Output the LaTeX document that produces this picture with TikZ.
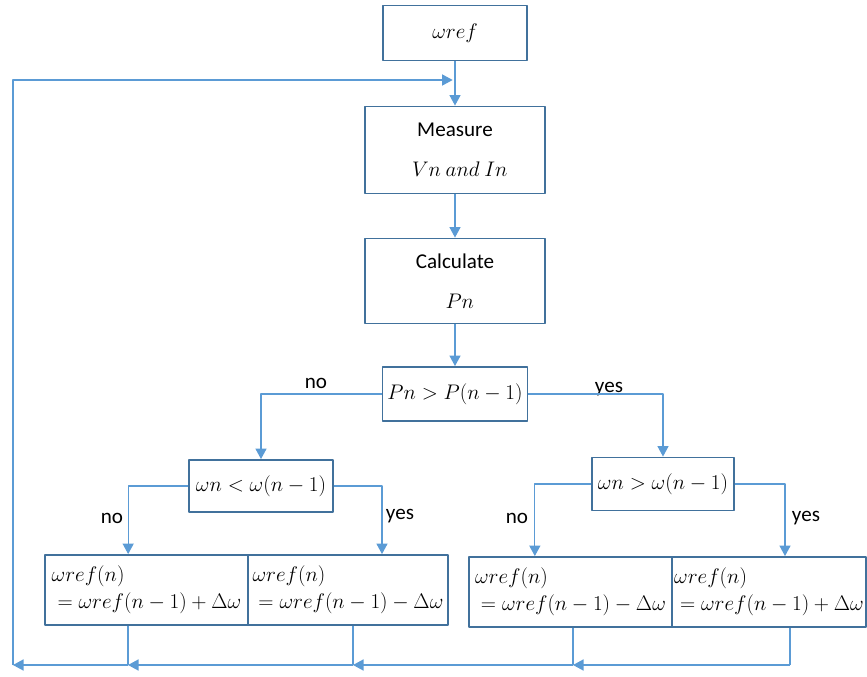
\RequirePackage{fix-cm}
\documentclass[tikz,border=0pt]{standalone}
\usepackage{fontspec}
\setmainfont{Carlito}
\usetikzlibrary{arrows.meta}
\definecolor{boxblue}{HTML}{41719C}
\definecolor{lineblue}{HTML}{5B9BD5}
\begin{document}
\begin{tikzpicture}[line join=round, x=0.03cm, y=-0.03cm, >={Triangle[length=9pt,width=9.5pt]}]
	\tikzset{every node/.style={font=\fontsize{18}{21}\selectfont},
		box/.style={draw=boxblue, line width=1.6pt, fill=white, align=center, inner sep=2pt},
		line/.style={lineblue, line width=1pt},
		flow/.style={line, ->}}
	\useasboundingbox (0,0) rectangle (867,677);
	% main column
	\node[box, minimum width=4.32cm, minimum height=1.65cm] (wref) at (455,33) {$\omega ref$};
	\node[box, minimum width=5.4cm, minimum height=2.61cm] (meas) at (455,150) {Measure\\[13pt]\ \ $Vn\ and\ In$};
	\node[box, minimum width=5.4cm, minimum height=2.55cm] (calc) at (455,281) {Calculate\\[13pt]\ \ $Pn$};
	\node[box, minimum width=4.35cm, minimum height=1.62cm] (dec1) at (455,394) {$Pn>P(n-1)$};
	% second level
	\node[box, minimum width=4.32cm, minimum height=1.56cm] (decL) at (261,486) {$\omega n<\omega(n-1)$};
	\node[box, minimum width=4.26cm, minimum height=1.59cm] (decR) at (663,484) {$\omega n>\omega(n-1)$};
	% updates
	\node[box, align=left, minimum width=6.09cm, minimum height=2.1cm] (bLL) at (146.5,590) {$\omega ref(n)$\\[2pt]${}=\omega ref(n-1)+\Delta\omega$};
	\node[box, align=left, minimum width=6.0cm, minimum height=2.1cm] (bLR) at (348,590) {$\omega ref(n)$\\[2pt]${}=\omega ref(n-1)-\Delta\omega$};
	\node[box, align=left, minimum width=6.09cm, minimum height=2.1cm] (bRL) at (570.5,592) {$\omega ref(n)$\\[2pt]${}=\omega ref(n-1)-\Delta\omega$};
	\node[box, align=left, minimum width=5.82cm, minimum height=2.1cm] (bRR) at (769,592) {$\omega ref(n)$\\[2pt]${}=\omega ref(n-1)+\Delta\omega$};
	% labels
	\node (no1) at (316,383) {no};
	\node (yes1) at (609,389) {yes};
	\node (no2) at (112,518) {no};
	\node (yes2) at (400,516) {yes};
	\node (no3) at (517,518) {no};
	\node (yes3) at (806,518) {yes};
	% return line
	\coordinate (j1) at (790,665);
	\coordinate (j2) at (573,665);
	\coordinate (j3) at (353,665);
	\coordinate (j4) at (128,665);
	\coordinate (j5) at (13,665);
	\coordinate (fb) at (0,80);
	% connectors
	\draw[flow] (wref) -- (meas);
	\draw[flow] (meas) -- (calc);
	\draw[flow] (calc) -- (dec1);
	\draw[flow] (dec1.west) -| (decL.north);
	\draw[flow] (dec1.east) -| (decR.north);
	\draw[flow] (decL.west) -| ([xshift=-0.55cm]bLL.north);
	\draw[flow] (decL.east) -| ([xshift=1.02cm]bLR.north);
	\draw[flow] (decR.west) -| ([xshift=-1.07cm]bRL.north);
	\draw[flow] (decR.east) -| ([xshift=0.48cm]bRR.north);
	\draw[line] (bRR.south -| j1) -- (j1);
	\draw[line] (bRL.south -| j2) -- (j2);
	\draw[line] (bLR.south -| j3) -- (j3);
	\draw[line] (bLL.south -| j4) -- (j4);
	\draw[flow] (j1) -- (j2);
	\draw[flow] (j2) -- (j3);
	\draw[flow] (j3) -- (j4);
	\draw[flow] (j4) -- (j5);
	\draw[flow, shorten >=2pt] (j5) |- (wref.south |- fb);
\end{tikzpicture}
\end{document}
